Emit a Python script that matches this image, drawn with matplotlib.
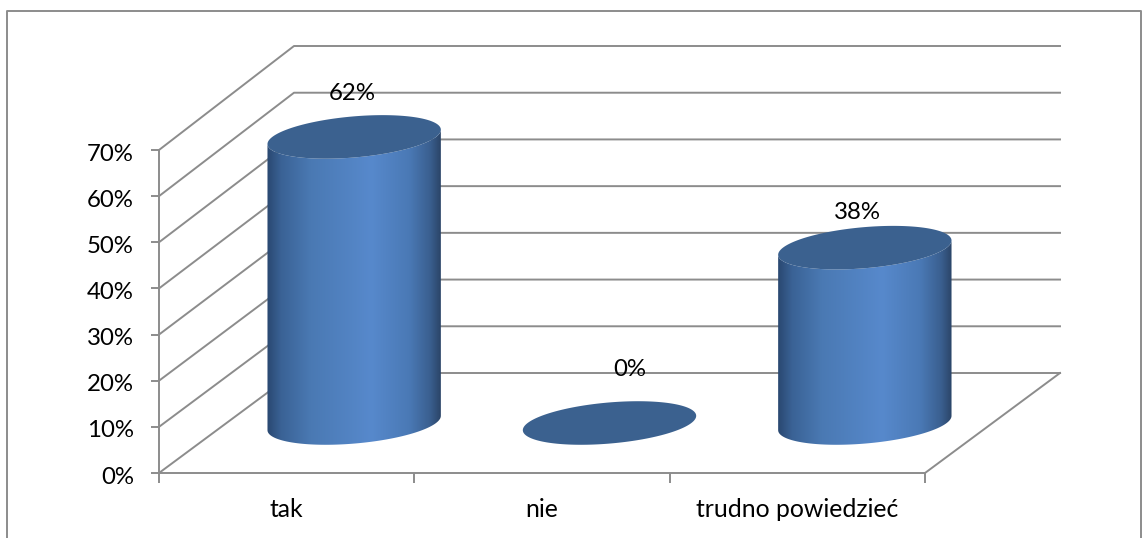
import numpy as np
import matplotlib
matplotlib.use('Agg')
import matplotlib.pyplot as plt
from matplotlib.colors import LinearSegmentedColormap
from matplotlib.lines import Line2D
from matplotlib.patches import Polygon
from matplotlib.transforms import ScaledTranslation

categories = ['tak', 'nie', 'trudno powiedzieć']
values = [62, 0, 38]
value_labels = ['62%', '0%', '38%']
y_ticks = [0, 10, 20, 30, 40, 50, 60, 70]

W, H = 1144, 538
plt.rcParams['font.family'] = ['Lato', 'DejaVu Sans']
grid_col = '#8c8c8c'
top_col = '#3b618f'
fs = 17.3
body_cmap = LinearSegmentedColormap.from_list('body', [
    (0.0, '#2a4871'), (0.08, '#3a6295'), (0.25, '#4a79b3'), (0.6, '#5789cc'),
    (0.82, '#4a79b5'), (0.94, '#3a5f8f'), (1.0, '#2b4568')])

fig = plt.figure(figsize=(W / 100, H / 100), dpi=100)
fig.patch.set_facecolor('white')

# outer frame, open at the bottom edge of the picture
fig.add_artist(Line2D([7 / W, 7 / W, 1141 / W, 1141 / W], [0, 1 - 11 / H, 1 - 11 / H, 0],
                      color=grid_col, lw=1.4))

# axes sit on the front plane of the 3d box
ax = fig.add_axes([159 / W, 1 - 473 / H, 766 / W, 323 / H])
ax.set_facecolor('none')
px_x = 766 / 3
px_y = 323 / 70
depth_x = 135 / px_x
depth_y = 100 / px_y
back_scale = 327 / 323


def back(x, v):
    return x + depth_x, depth_y + v * back_scale


# walls and floor
for v in y_ticks:
    bx0, by0 = back(0, v)
    bx1, by1 = back(3, v)
    ax.plot([0, bx0, bx1], [v, by0, by1], color=grid_col, lw=1.4, clip_on=False, zorder=1)
ax.plot([3, back(3, 0)[0]], [0, back(3, 0)[1]], color=grid_col, lw=1.4, clip_on=False, zorder=1)

a, b, tilt = 87, 20.5, np.radians(5)


def ellipse(cx, cy, t):
    # tilted ellipse, sizes in pixels, result in data units
    ex = a * np.cos(t) * np.cos(tilt) - b * np.sin(t) * np.sin(tilt)
    ey = a * np.cos(t) * np.sin(tilt) + b * np.sin(t) * np.cos(tilt)
    return cx + ex / px_x, cy + ey / px_y


for i, v in enumerate(values):
    cx = i + 0.5 + depth_x / 2
    cy = depth_y / 2
    tt = np.linspace(0, 2 * np.pi, 200)
    if v > 0:
        # body outline: lower half of base and top ellipses joined by straight sides
        tl = np.arctan2(-b * np.sin(tilt), a * np.cos(tilt))
        lower = np.linspace(tl + np.pi, tl + 2 * np.pi, 100)
        bx, by = ellipse(cx, cy, lower)
        ux, uy = ellipse(cx, cy + v, lower[::-1])
        body = Polygon(np.column_stack([np.r_[bx, ux], np.r_[by, uy]]), closed=True,
                       transform=ax.transData, facecolor='none', edgecolor='none')
        ax.add_patch(body)
        im = ax.imshow(np.linspace(0, 1, 256).reshape(1, -1), cmap=body_cmap, aspect='auto',
                       extent=[bx.min(), bx.max(), -20, 80], zorder=3)
        im.set_clip_box(fig.bbox)
        im.set_clip_path(body)
    ex, ey = ellipse(cx, cy + v, tt)
    ax.fill(ex, ey, color=top_col, lw=0, zorder=4, clip_on=False)

label_dx = [-2, 20, -7]
label_dy = [43, 53, 35]
for i, v in enumerate(values):
    cx = i + 0.5 + depth_x / 2
    ax.annotate(value_labels[i], (cx, depth_y / 2 + v), xytext=(label_dx[i], label_dy[i]),
                textcoords='offset pixels', ha='center', va='center', fontsize=fs,
                color='black', zorder=5, annotation_clip=False)

ax.set_xlim(0, 3)
ax.set_ylim(0, 70)
ax.set_xticks([0, 1, 2, 3])
ax.set_xticklabels([])
ax.set_xticks([0.5, 1.5, 2.5], categories, minor=True)
ax.tick_params(axis='x', which='major', length=7, width=1.4, color=grid_col)
ax.tick_params(axis='x', which='minor', length=0, pad=18, labelsize=17.8)
ax.set_yticks(y_ticks, [f'{v}%' for v in y_ticks])
ax.tick_params(axis='y', length=6, width=1.4, color=grid_col, labelsize=fs, pad=12)
for lab in ax.get_yticklabels():
    lab.set_transform(lab.get_transform() + ScaledTranslation(0, -1.5 / 72, fig.dpi_scale_trans))
for s in ['top', 'right']:
    ax.spines[s].set_visible(False)
for s in ['left', 'bottom']:
    ax.spines[s].set_color(grid_col)
    ax.spines[s].set_linewidth(1.4)

fig.savefig('out.png', dpi=100)
